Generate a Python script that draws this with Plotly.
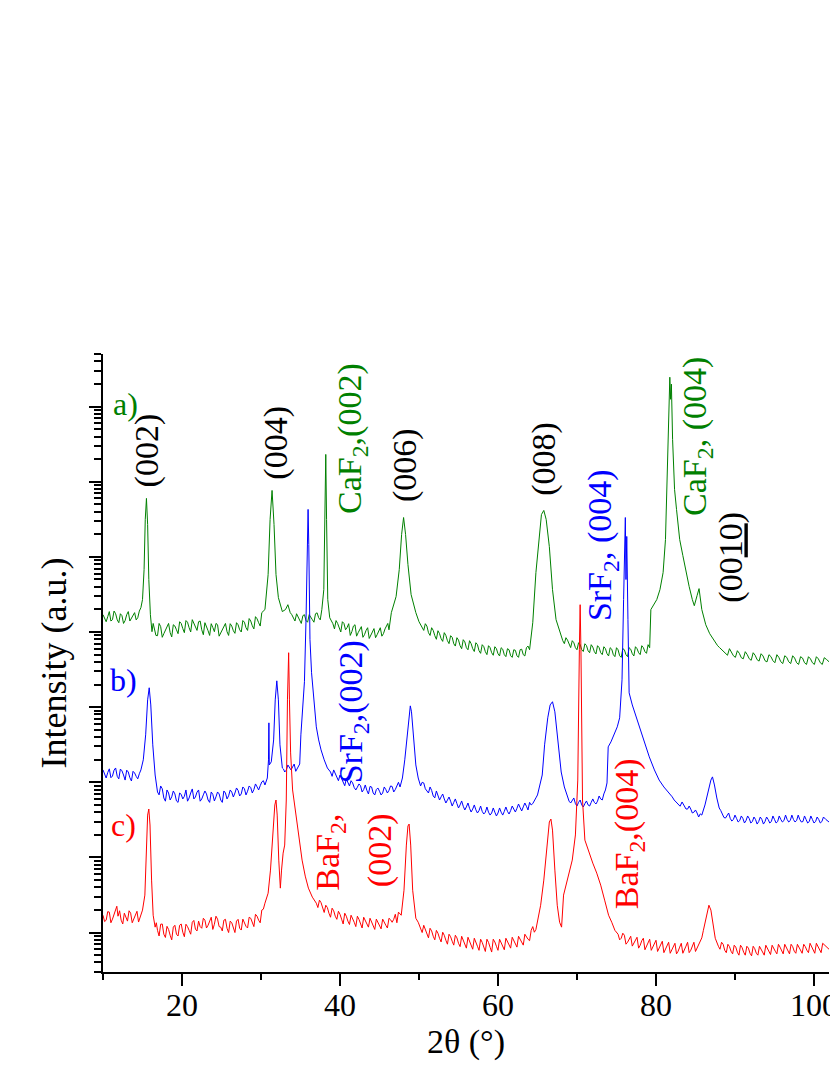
import plotly.graph_objects as go

# XRD patterns, (2theta, intensity) pairs (log scale, arbitrary units)
green_a = [
    (10.0, 1.70e5), (10.4, 1.37e5), (10.8, 1.87e5), (11.2, 1.46e5), (11.6, 1.75e5), (12.0, 1.33e5),
    (12.4, 1.65e5), (12.8, 1.42e5), (13.2, 1.87e5), (13.6, 1.51e5), (14.0, 1.81e5), (14.4, 1.55e5),
    (14.8, 2.11e5), (15.0, 2.70e5), (15.2, 6.78e5), (15.35, 3.15e6), (15.5, 6.00e6), (15.65, 2.70e6),
    (15.8, 4.99e5), (16.0, 1.70e5), (16.2, 1.01e5), (16.5, 1.14e5), (16.9, 8.93e4), (17.3, 1.18e5),
    (17.7, 9.50e4), (18.1, 1.21e5), (18.5, 9.80e4), (18.9, 1.25e5), (19.3, 1.07e5), (19.7, 1.37e5),
    (20.1, 1.11e5), (20.5, 1.42e5), (20.9, 1.14e5), (21.3, 1.46e5), (21.7, 1.18e5), (22.1, 1.37e5),
    (22.5, 1.07e5), (22.9, 1.33e5), (23.3, 1.04e5), (23.7, 1.29e5), (24.1, 1.01e5), (24.5, 1.25e5),
    (24.9, 9.80e4), (25.3, 1.21e5), (25.7, 1.01e5), (26.1, 1.29e5), (26.5, 1.04e5), (26.9, 1.33e5),
    (27.3, 1.07e5), (27.7, 1.42e5), (28.1, 1.14e5), (28.5, 1.51e5), (28.9, 1.21e5), (29.3, 1.60e5),
    (29.7, 1.33e5), (30.1, 1.81e5), (30.5, 1.99e5), (30.9, 5.81e5), (31.15, 3.15e6), (31.4, 7.66e6),
    (31.65, 2.70e6), (31.9, 5.81e5), (32.2, 2.87e5), (32.7, 1.87e5), (33.1, 1.99e5), (33.4, 2.31e5),
    (33.7, 1.81e5), (34.1, 1.55e5), (34.5, 1.75e5), (34.9, 1.46e5), (35.3, 1.65e5), (35.7, 1.42e5),
    (36.1, 1.70e5), (36.5, 1.46e5), (36.9, 1.75e5), (37.3, 1.55e5), (37.7, 1.99e5), (37.95, 3.66e5),
    (38.1, 3.15e6), (38.2, 2.31e7), (38.3, 3.15e6), (38.45, 2.70e5), (38.7, 1.55e5), (39.1, 1.29e5),
    (39.5, 1.42e5), (39.9, 1.14e5), (40.3, 1.37e5), (40.7, 1.07e5), (41.1, 1.29e5), (41.5, 1.01e5),
    (41.9, 1.25e5), (42.3, 9.80e4), (42.7, 1.18e5), (43.1, 9.21e4), (43.5, 1.14e5), (43.9, 8.93e4),
    (44.3, 1.11e5), (44.7, 9.21e4), (45.1, 1.14e5), (45.5, 9.50e4), (45.9, 1.21e5), (46.2, 1.07e5),
    (46.5, 1.81e5), (47.1, 2.96e5), (47.5, 6.78e5), (47.8, 1.99e6), (48.05, 3.34e6), (48.3, 1.99e6),
    (48.6, 7.91e5), (49.0, 3.15e5), (49.6, 1.81e5), (50.0, 1.37e5), (50.4, 1.18e5), (50.8, 1.29e5),
    (51.2, 9.80e4), (51.6, 1.14e5), (52.0, 8.93e4), (52.4, 1.04e5), (52.8, 8.15e4), (53.2, 9.80e4),
    (53.6, 7.66e4), (54.0, 8.93e4), (54.4, 6.98e4), (54.8, 8.40e4), (55.2, 6.57e4), (55.6, 7.90e4),
    (56.0, 6.18e4), (56.4, 7.66e4), (56.8, 6.00e4), (57.2, 7.20e4), (57.6, 5.64e4), (58.0, 6.78e4),
    (58.4, 5.47e4), (58.8, 6.57e4), (59.2, 5.30e4), (59.6, 6.37e4), (60.0, 5.14e4), (60.4, 6.18e4),
    (60.8, 4.99e4), (61.2, 6.00e4), (61.6, 4.83e4), (62.0, 5.81e4), (62.4, 4.83e4), (62.8, 5.81e4),
    (63.2, 4.99e4), (63.6, 6.18e4), (64.0, 5.81e4), (64.4, 1.33e5), (64.8, 6.18e5), (65.2, 1.99e6),
    (65.5, 3.66e6), (65.8, 4.15e6), (66.1, 3.15e6), (66.5, 1.37e6), (66.9, 3.66e5), (67.35, 1.46e5),
    (67.8, 1.01e5), (68.2, 7.66e4), (68.6, 8.40e4), (69.0, 6.78e4), (69.4, 7.66e4), (69.8, 6.18e4),
    (70.2, 7.20e4), (70.6, 5.81e4), (71.0, 6.98e4), (71.4, 5.64e4), (71.8, 6.78e4), (72.2, 5.47e4),
    (72.6, 6.57e4), (73.0, 5.30e4), (73.4, 6.37e4), (73.8, 5.14e4), (74.2, 6.18e4), (74.6, 4.99e4),
    (75.0, 6.18e4), (75.4, 4.83e4), (75.8, 6.00e4), (76.2, 4.99e4), (76.6, 6.18e4), (77.0, 5.14e4),
    (77.4, 6.37e4), (77.8, 5.30e4), (78.2, 6.57e4), (78.6, 5.47e4), (79.0, 6.78e4), (79.2, 6.18e4),
    (79.35, 1.99e5), (79.7, 2.31e5), (80.1, 2.70e5), (80.5, 3.66e5), (80.9, 6.18e5), (81.2, 1.70e6),
    (81.4, 1.07e7), (81.6, 9.20e7), (81.75, 2.46e8), (81.85, 1.25e8), (81.95, 1.99e8), (82.1, 3.66e7),
    (82.35, 7.91e6), (82.6, 4.28e6), (83.0, 1.70e6), (83.4, 1.04e6), (83.8, 6.37e5), (84.2, 4.02e5),
    (84.6, 2.70e5), (84.85, 2.24e5), (85.2, 3.05e5), (85.45, 3.78e5), (85.8, 1.99e5), (86.3, 1.25e5),
    (86.8, 9.50e4), (87.3, 7.90e4), (87.8, 6.57e4), (88.3, 5.81e4), (88.8, 5.14e4), (89.3, 6.00e4),
    (89.8, 4.83e4), (90.3, 5.64e4), (90.8, 4.55e4), (91.3, 5.47e4), (91.8, 4.41e4), (92.3, 5.30e4),
    (92.8, 4.28e4), (93.3, 5.14e4), (93.8, 4.15e4), (94.3, 4.99e4), (94.8, 4.15e4), (95.3, 4.99e4),
    (95.8, 4.02e4), (96.3, 4.83e4), (96.8, 4.02e4), (97.3, 4.83e4), (97.8, 3.90e4), (98.3, 4.69e4),
    (98.8, 3.90e4), (99.3, 4.69e4), (99.8, 3.90e4), (100.3, 4.69e4), (100.8, 3.90e4), (101.3, 4.55e4),
    (101.9, 4.02e4),
]
# extra baseline readings between the ones above (the noise band)
green_a_noise = [
    (10.2, 1.55e5), (10.6, 1.60e5), (11.0, 1.40e5), (11.4, 1.90e5), (11.8, 1.45e5), (12.2, 1.75e5),
    (12.6, 1.30e5), (13.0, 1.70e5), (13.4, 1.40e5), (13.8, 1.65e5), (14.2, 1.45e5), (14.6, 1.90e5),
    (16.35, 1.30e5), (16.7, 9.0e4), (17.1, 1.30e5), (17.5, 8.5e4), (17.9, 1.05e5), (18.3, 1.30e5),
    (18.7, 8.6e4), (19.1, 1.20e5), (19.5, 9.5e4), (19.9, 1.30e5), (20.3, 9.8e4), (20.7, 1.35e5),
    (21.1, 1.00e5), (21.5, 1.30e5), (21.9, 1.05e5), (22.3, 1.40e5), (22.7, 9.2e4), (23.1, 1.20e5),
    (23.5, 9.0e4), (23.9, 1.15e5), (24.3, 1.30e5), (24.7, 8.8e4), (25.1, 1.10e5), (25.5, 1.30e5),
    (25.9, 9.0e4), (26.3, 1.20e5), (26.7, 9.6e4), (27.1, 1.25e5), (27.5, 1.00e5), (27.9, 1.35e5),
    (28.3, 1.05e5), (28.7, 1.40e5), (29.1, 1.10e5), (29.5, 1.50e5), (29.9, 1.20e5),
    (33.9, 1.70e5), (34.3, 1.40e5), (34.7, 1.60e5), (35.1, 1.30e5), (35.5, 1.70e5), (35.9, 1.35e5),
    (36.3, 1.60e5), (36.7, 1.35e5), (37.1, 1.80e5), (37.5, 1.45e5),
    (38.9, 1.40e5), (39.3, 1.10e5), (39.7, 1.30e5), (40.1, 1.00e5), (40.5, 1.30e5), (40.9, 1.15e5),
    (41.3, 9.0e4), (41.7, 1.20e5), (42.1, 8.8e4), (42.5, 1.10e5), (42.9, 8.5e4), (43.3, 1.05e5),
    (43.7, 8.2e4), (44.1, 1.00e5), (44.5, 8.4e4), (44.9, 1.05e5), (45.3, 8.8e4), (45.7, 1.10e5),
    (46.05, 1.30e5),
    (50.2, 1.25e5), (50.6, 1.05e5), (51.0, 1.20e5), (51.4, 9.0e4), (51.8, 1.05e5), (52.2, 8.0e4),
    (52.6, 9.5e4), (53.0, 7.5e4), (53.4, 9.0e4), (53.8, 7.0e4), (54.2, 8.5e4), (54.6, 6.5e4),
    (55.0, 7.8e4), (55.4, 6.0e4), (55.8, 7.4e4), (56.2, 5.8e4), (56.6, 7.0e4), (57.0, 5.5e4),
    (57.4, 6.8e4), (57.8, 5.2e4), (58.2, 6.4e4), (58.6, 5.0e4), (59.0, 6.2e4), (59.4, 4.9e4),
    (59.8, 6.0e4), (60.2, 4.8e4), (60.6, 5.9e4), (61.0, 4.7e4), (61.4, 5.8e4), (61.8, 4.6e4),
    (62.2, 5.7e4), (62.6, 4.6e4), (63.0, 5.9e4), (63.4, 4.8e4), (63.8, 6.5e4),
    (68.0, 9.0e4), (68.4, 7.0e4), (68.8, 7.8e4), (69.2, 6.2e4), (69.6, 7.2e4), (70.0, 5.8e4),
    (70.4, 6.8e4), (70.8, 5.5e4), (71.2, 6.6e4), (71.6, 5.3e4), (72.0, 6.3e4), (72.4, 5.1e4),
    (72.8, 6.2e4), (73.2, 5.0e4), (73.6, 6.0e4), (74.0, 4.8e4), (74.4, 5.9e4), (74.8, 4.7e4),
    (75.2, 5.8e4), (75.6, 4.6e4), (76.0, 5.8e4), (76.4, 4.7e4), (76.8, 5.9e4), (77.2, 4.8e4),
    (77.6, 6.0e4), (78.0, 5.0e4), (78.4, 6.2e4), (78.8, 5.2e4),
    (87.55, 7.0e4), (88.05, 6.2e4), (88.55, 5.5e4), (89.05, 4.9e4), (89.55, 5.3e4), (90.05, 4.6e4),
    (90.55, 5.2e4), (91.05, 4.4e4), (91.55, 5.0e4), (92.05, 4.2e4), (92.55, 4.9e4), (93.05, 4.1e4),
    (93.55, 4.8e4), (94.05, 4.0e4), (94.55, 4.7e4), (95.05, 3.9e4), (95.55, 4.6e4), (96.05, 3.8e4),
    (96.55, 4.6e4), (97.05, 3.8e4), (97.55, 4.5e4), (98.05, 3.7e4), (98.55, 4.5e4), (99.05, 3.7e4),
    (99.55, 4.4e4), (100.05, 3.7e4), (100.55, 4.4e4), (101.05, 3.7e4), (101.6, 4.3e4),
]

blue_b = [
    (10.0, 1.46e3), (10.4, 1.14e3), (10.8, 1.51e3), (11.2, 1.21e3), (11.6, 1.55e3), (12.0, 1.11e3),
    (12.4, 1.42e3), (12.8, 1.07e3), (13.2, 1.37e3), (13.6, 1.04e3), (14.0, 1.33e3), (14.4, 1.11e3),
    (14.8, 1.46e3), (15.1, 1.99e3), (15.4, 4.28e3), (15.65, 1.25e4), (15.85, 1.81e4), (16.05, 1.07e4),
    (16.3, 3.15e3), (16.6, 1.25e3), (16.9, 743), (17.3, 893), (17.7, 618), (18.1, 790), (18.5, 581),
    (18.9, 766), (19.3, 564), (19.7, 720), (20.1, 600), (20.5, 790), (20.9, 618), (21.3, 815),
    (21.7, 637), (22.1, 790), (22.5, 600), (22.9, 766), (23.3, 581), (23.7, 743), (24.1, 564),
    (24.5, 743), (24.9, 581), (25.3, 766), (25.7, 600), (26.1, 790), (26.5, 637), (26.9, 840),
    (27.3, 657), (27.7, 866), (28.1, 678), (28.5, 893), (28.9, 720), (29.3, 950), (29.7, 790),
    (30.1, 1.01e3), (30.5, 921), (30.8, 1.14e3), (30.95, 1.99e3), (31.0, 6.18e3), (31.05, 1.70e3),
    (31.3, 1.87e3), (31.6, 3.66e3), (31.8, 1.25e4), (32.0, 2.24e4), (32.2, 1.25e4), (32.4, 3.15e3),
    (32.7, 1.55e3), (33.0, 1.37e3), (33.4, 1.70e3), (33.8, 1.46e3), (34.2, 1.75e3), (34.6, 1.55e3),
    (34.9, 1.75e3), (35.05, 4.28e3), (35.2, 6.78e3), (35.5, 2.18e4), (35.7, 1.46e5), (35.85, 1.25e6),
    (35.96, 4.28e6), (36.05, 1.46e6), (36.2, 7.90e4), (36.4, 2.87e4), (36.7, 1.25e4), (37.0, 5.47e3),
    (37.3, 3.66e3), (37.6, 2.70e3), (38.0, 1.99e3), (38.4, 1.55e3), (38.8, 1.37e3), (39.2, 1.46e3),
    (39.6, 1.14e3), (40.0, 1.25e3), (40.4, 1.01e3), (40.8, 1.11e3), (41.2, 893), (41.6, 980),
    (42.0, 790), (42.4, 950), (42.8, 743), (43.2, 921), (43.6, 698), (44.0, 866), (44.4, 678),
    (44.8, 840), (45.2, 678), (45.6, 866), (46.0, 720), (46.4, 893), (46.8, 743), (47.2, 921),
    (47.6, 866), (47.9, 1.14e3), (48.2, 1.99e3), (48.5, 4.28e3), (48.75, 8.67e3), (48.9, 1.04e4),
    (49.05, 8.67e3), (49.3, 3.66e3), (49.6, 1.70e3), (49.9, 1.14e3), (50.2, 893), (50.6, 980),
    (51.0, 766), (51.4, 866), (51.8, 657), (52.2, 766), (52.6, 581), (53.0, 698), (53.4, 530),
    (53.8, 637), (54.2, 483), (54.6, 600), (55.0, 455), (55.4, 564), (55.8, 428), (56.2, 530),
    (56.6, 402), (57.0, 499), (57.4, 390), (57.8, 483), (58.2, 378), (58.6, 469), (59.0, 366),
    (59.4, 455), (59.8, 356), (60.2, 455), (60.6, 366), (61.0, 469), (61.4, 378), (61.8, 483),
    (62.2, 402), (62.6, 514), (63.0, 415), (63.4, 530), (63.8, 428), (64.2, 499), (64.6, 581),
    (65.0, 678), (65.3, 921), (65.6, 1.25e3), (65.9, 3.15e3), (66.3, 7.21e3), (66.6, 1.07e4),
    (66.9, 1.18e4), (67.2, 8.67e3), (67.6, 3.15e3), (68.0, 1.37e3), (68.4, 866), (68.8, 637),
    (69.2, 530), (69.6, 618), (70.0, 483), (70.4, 581), (70.8, 469), (71.2, 564), (71.6, 483),
    (72.0, 600), (72.4, 514), (72.8, 657), (73.2, 581), (73.6, 790), (73.8, 980), (73.95, 2.96e3),
    (74.3, 3.45e3), (74.7, 4.28e3), (75.1, 5.47e3), (75.4, 7.21e3), (75.7, 2.31e4), (75.9, 2.70e5),
    (76.05, 1.70e6), (76.12, 3.34e6), (76.2, 4.99e5), (76.3, 1.87e6), (76.45, 1.46e5), (76.6, 1.55e4),
    (77.0, 1.07e4), (77.4, 7.91e3), (77.9, 5.47e3), (78.5, 3.45e3), (79.15, 2.18e3), (79.8, 1.46e3),
    (80.4, 1.07e3), (81.0, 866), (81.7, 720), (82.3, 581), (82.8, 499), (83.3, 547), (83.8, 441),
    (84.2, 483), (84.6, 390), (85.0, 428), (85.4, 345), (85.8, 366), (86.2, 499), (86.6, 743),
    (86.95, 1.07e3), (87.15, 1.18e3), (87.4, 921), (87.7, 618), (88.0, 455), (88.4, 366), (88.8, 334),
    (89.2, 390), (89.6, 305), (90.0, 366), (90.4, 296), (90.8, 356), (91.2, 287), (91.6, 356),
    (92.0, 287), (92.4, 345), (92.8, 278), (93.2, 345), (93.6, 278), (94.0, 345), (94.4, 287),
    (94.8, 356), (95.2, 287), (95.6, 356), (96.0, 296), (96.4, 366), (96.8, 296), (97.2, 366),
    (97.6, 296), (98.0, 366), (98.4, 296), (98.8, 356), (99.2, 287), (99.6, 356), (100.0, 287),
    (100.4, 345), (100.8, 287), (101.2, 345), (101.9, 296),
]
blue_b_noise = [
    (10.2, 1.25e3), (10.6, 1.35e3), (11.0, 1.15e3), (11.4, 1.45e3), (11.8, 1.20e3), (12.2, 1.50e3),
    (12.6, 1.25e3), (13.0, 1.45e3), (13.4, 1.15e3), (13.8, 1.40e3), (14.2, 1.20e3), (14.6, 1.30e3),
    (17.1, 680), (17.5, 820), (17.9, 560), (18.3, 720), (18.7, 640), (19.1, 700), (19.5, 540),
    (19.9, 690), (20.3, 650), (20.7, 560), (21.1, 720), (21.5, 600), (21.9, 740), (22.3, 560),
    (22.7, 680), (23.1, 700), (23.5, 540), (23.9, 690), (24.3, 640), (24.7, 700), (25.1, 540),
    (25.5, 720), (25.9, 660), (26.3, 740), (26.7, 720), (27.1, 780), (27.5, 700), (27.9, 820),
    (28.3, 760), (28.7, 850), (29.1, 800), (29.5, 870), (29.9, 900), (30.3, 1.05e3),
    (32.85, 1.50e3), (33.2, 1.45e3), (33.6, 1.60e3), (34.0, 1.60e3), (34.4, 1.40e3), (34.75, 1.65e3),
    (39.0, 1.20e3), (39.4, 1.30e3), (39.8, 1.05e3), (40.2, 1.10e3), (40.6, 900), (41.0, 1.00e3),
    (41.4, 1.05e3), (41.8, 850), (42.2, 860), (42.6, 900), (43.0, 800), (43.4, 780), (43.8, 880),
    (44.2, 720), (44.6, 800), (45.0, 760), (45.4, 720), (45.8, 800), (46.2, 780), (46.6, 880),
    (47.0, 800), (47.4, 1.00e3),
    (50.4, 1.00e3), (50.8, 820), (51.2, 720), (51.6, 780), (52.0, 620), (52.4, 680), (52.8, 640),
    (53.2, 600), (53.6, 580), (54.0, 560), (54.4, 540), (54.8, 520), (55.2, 500), (55.6, 480),
    (56.0, 470), (56.4, 450), (56.8, 440), (57.2, 430), (57.6, 420), (58.0, 410), (58.4, 400),
    (58.8, 400), (59.2, 390), (59.6, 400), (60.0, 390), (60.4, 400), (60.8, 410), (61.2, 410),
    (61.6, 420), (62.0, 440), (62.4, 450), (62.8, 460), (63.2, 470), (63.6, 480), (64.0, 540),
    (64.4, 520), (64.8, 620),
    (69.0, 560), (69.4, 580), (69.8, 520), (70.2, 540), (70.6, 500), (71.0, 520), (71.4, 500),
    (71.8, 540), (72.2, 540), (72.6, 560), (73.0, 600), (73.4, 700),
    (82.05, 640), (82.55, 540), (83.05, 480), (83.55, 500), (84.0, 440), (84.4, 440), (84.8, 400),
    (85.2, 390), (85.6, 380),
    (88.2, 420), (88.6, 340), (89.0, 370), (89.4, 330), (89.8, 320), (90.2, 330), (90.6, 310),
    (91.0, 330), (91.4, 310), (91.8, 330), (92.2, 300), (92.6, 320), (93.0, 300), (93.4, 320),
    (93.8, 300), (94.2, 320), (94.6, 300), (95.0, 320), (95.4, 300), (95.8, 320), (96.2, 310),
    (96.6, 320), (97.0, 310), (97.4, 320), (97.8, 310), (98.2, 320), (98.6, 300), (99.0, 320),
    (99.4, 300), (99.8, 320), (100.2, 300), (100.6, 320), (101.0, 300), (101.5, 320),
]

red_c = [
    (10.0, 17.0), (10.4, 14.6), (10.8, 18.7), (11.2, 15.1), (11.6, 19.9), (11.75, 22.4), (11.9, 16.5),
    (12.3, 14.6), (12.7, 18.1), (13.1, 14.2), (13.5, 18.1), (13.9, 15.1), (14.3, 19.2), (14.7, 16.5),
    (15.0, 19.9), (15.3, 31.5), (15.5, 125), (15.65, 366), (15.8, 441), (15.95, 270), (16.15, 49.9),
    (16.35, 17.0), (16.6, 11.8), (16.9, 10.7), (17.3, 12.9), (17.7, 9.50), (18.1, 12.1), (18.5, 9.21),
    (18.9, 11.8), (19.3, 9.50), (19.7, 12.5), (20.1, 10.1), (20.5, 12.9), (20.9, 10.7), (21.3, 13.7),
    (21.7, 11.1), (22.1, 14.2), (22.5, 11.4), (22.9, 14.6), (23.3, 12.5), (23.7, 16.0), (24.1, 12.9),
    (24.5, 15.1), (24.9, 11.8), (25.3, 14.6), (25.7, 11.4), (26.1, 14.2), (26.5, 11.1), (26.9, 14.2),
    (27.3, 11.4), (27.7, 15.1), (28.1, 12.1), (28.5, 16.0), (28.9, 13.3), (29.3, 17.5), (29.7, 14.6),
    (30.1, 19.9), (30.5, 24.6), (30.9, 33.4), (31.2, 67.8), (31.5, 231), (31.75, 499), (31.9, 581),
    (32.05, 366), (32.25, 92.1), (32.45, 39.0), (32.6, 67.8), (32.8, 114), (33.0, 146), (33.2, 581),
    (33.35, 1.25e4), (33.5, 5.30e4), (33.6, 1.25e4), (33.75, 2.46e3), (34.0, 790), (34.4, 366),
    (34.8, 181), (35.2, 92.1), (35.6, 56.4), (36.0, 39.0), (36.5, 29.6), (37.0, 24.6), (37.4, 27.0),
    (37.8, 20.5), (38.2, 23.1), (38.6, 18.1), (39.0, 21.1), (39.4, 16.5), (39.8, 19.2), (40.2, 15.1),
    (40.6, 18.1), (41.0, 14.2), (41.4, 17.0), (41.8, 13.7), (42.2, 16.5), (42.6, 13.3), (43.0, 16.0),
    (43.4, 12.9), (43.8, 15.5), (44.2, 12.5), (44.6, 15.1), (45.0, 12.1), (45.4, 15.1), (45.8, 12.5),
    (46.2, 15.5), (46.6, 13.7), (47.0, 17.5), (47.4, 18.7), (47.75, 17.0), (48.1, 36.6), (48.4, 146),
    (48.6, 262), (48.75, 278), (48.95, 146), (49.2, 36.6), (49.6, 15.5), (49.9, 13.7), (50.2, 11.4),
    (50.6, 12.5), (51.0, 9.80), (51.4, 11.4), (51.8, 8.93), (52.2, 10.7), (52.6, 8.40), (53.0, 10.1),
    (53.4, 7.90), (53.8, 9.50), (54.2, 7.66), (54.6, 9.21), (55.0, 7.20), (55.4, 8.93), (55.8, 6.98),
    (56.2, 8.66), (56.6, 6.78), (57.0, 8.40), (57.4, 6.57), (57.8, 8.15), (58.2, 6.57), (58.6, 8.15),
    (59.0, 6.37), (59.4, 8.15), (59.8, 6.57), (60.2, 8.15), (60.6, 6.57), (61.0, 8.40), (61.4, 6.78),
    (61.8, 8.66), (62.2, 6.98), (62.6, 8.93), (63.0, 7.43), (63.4, 9.50), (63.8, 8.15), (64.2, 10.7),
    (64.6, 10.1), (65.0, 14.6), (65.4, 23.1), (65.8, 49.9), (66.2, 146), (66.5, 296), (66.7, 324),
    (66.9, 231), (67.2, 67.8), (67.5, 23.1), (67.8, 13.7), (68.05, 11.8), (68.3, 31.5), (68.6, 42.8),
    (69.0, 63.7), (69.4, 92.1), (69.8, 199), (70.1, 1.07e3), (70.3, 5.81e4), (70.4, 2.31e5),
    (70.5, 5.81e4), (70.7, 581), (71.0, 170), (71.5, 118), (72.0, 84.0), (72.5, 61.8), (73.0, 42.8),
    (73.5, 27.0), (74.0, 17.0), (74.4, 13.7), (74.8, 10.7), (75.2, 9.50), (75.6, 8.40), (76.0, 9.21),
    (76.4, 7.43), (76.8, 8.93), (77.2, 7.20), (77.6, 8.66), (78.0, 6.78), (78.4, 8.40), (78.8, 6.57),
    (79.2, 8.15), (79.6, 6.37), (80.0, 7.90), (80.4, 6.18), (80.8, 7.66), (81.2, 6.00), (81.6, 7.43),
    (82.0, 5.81), (82.4, 7.20), (82.8, 5.64), (83.2, 7.20), (83.6, 5.81), (84.0, 7.43), (84.4, 5.81),
    (84.8, 7.43), (85.2, 6.18), (85.6, 7.90), (86.0, 10.7), (86.4, 17.0), (86.7, 23.1), (86.95, 19.9),
    (87.2, 12.5), (87.5, 8.40), (87.9, 6.57), (88.3, 7.43), (88.7, 5.81), (89.1, 6.98), (89.5, 5.64),
    (89.9, 6.78), (90.3, 5.47), (90.7, 6.78), (91.1, 5.47), (91.5, 6.57), (91.9, 5.30), (92.3, 6.57),
    (92.7, 5.30), (93.1, 6.57), (93.5, 5.47), (93.9, 6.78), (94.3, 5.47), (94.7, 6.78), (95.1, 5.64),
    (95.5, 6.98), (95.9, 5.64), (96.3, 6.98), (96.7, 5.64), (97.1, 6.98), (97.5, 5.64), (97.9, 6.98),
    (98.3, 5.81), (98.7, 6.98), (99.1, 5.81), (99.5, 7.20), (99.9, 5.81), (100.3, 7.20), (100.7, 5.81),
    (101.1, 7.20), (101.9, 6.00),
]
red_c_noise = [
    (10.2, 14.0), (10.6, 19.0), (11.0, 13.5), (11.4, 17.5), (12.1, 19.5), (12.5, 13.0), (12.9, 16.0),
    (13.3, 19.5), (13.7, 13.5), (14.1, 17.5), (14.5, 13.8), (14.85, 18.0),
    (16.75, 13.5), (17.1, 9.0), (17.5, 13.0), (17.9, 8.6), (18.3, 11.0), (18.7, 8.0), (19.1, 12.5),
    (19.5, 9.0), (19.9, 13.0), (20.3, 8.8), (20.7, 12.0), (21.1, 9.5), (21.5, 14.5), (21.9, 10.5),
    (22.3, 12.0), (22.7, 15.5), (23.1, 11.5), (23.5, 14.0), (23.9, 11.0), (24.3, 16.5), (24.7, 12.0),
    (25.1, 10.5), (25.5, 15.0), (25.9, 10.0), (26.3, 13.5), (26.7, 10.0), (27.1, 15.0), (27.5, 10.8),
    (27.9, 13.5), (28.3, 11.5), (28.7, 15.5), (29.1, 12.0), (29.5, 16.5), (29.9, 13.5), (30.3, 20.5),
    (37.2, 21.5), (37.6, 25.0), (38.0, 18.5), (38.4, 21.5), (38.8, 16.0), (39.2, 19.5), (39.6, 15.0),
    (40.0, 17.5), (40.4, 13.0), (40.8, 16.5), (41.2, 12.8), (41.6, 15.5), (42.0, 12.0), (42.4, 15.0),
    (42.8, 11.5), (43.2, 14.5), (43.6, 11.8), (44.0, 14.0), (44.4, 11.0), (44.8, 13.8), (45.2, 11.2),
    (45.6, 14.0), (46.0, 11.5), (46.4, 14.8), (46.8, 15.0), (47.2, 13.5),
    (50.4, 10.0), (50.8, 11.0), (51.2, 8.5), (51.6, 10.5), (52.0, 8.0), (52.4, 9.8), (52.8, 7.5),
    (53.2, 9.2), (53.6, 7.0), (54.0, 8.8), (54.4, 6.8), (54.8, 8.5), (55.2, 6.5), (55.6, 8.0),
    (56.0, 6.2), (56.4, 7.8), (56.8, 6.0), (57.2, 7.6), (57.6, 5.8), (58.0, 7.4), (58.4, 5.6),
    (58.8, 7.4), (59.2, 5.5), (59.6, 7.5), (60.0, 5.8), (60.4, 7.2), (60.8, 5.9), (61.2, 7.6),
    (61.6, 6.2), (62.0, 7.8), (62.4, 6.4), (62.8, 8.0), (63.2, 6.8), (63.6, 8.6), (64.0, 7.8),
    (64.4, 12.0), (64.8, 11.0),
    (75.4, 8.0), (75.8, 9.8), (76.2, 7.0), (76.6, 8.4), (77.0, 6.6), (77.4, 8.0), (77.8, 6.2),
    (78.2, 7.8), (78.6, 5.9), (79.0, 7.4), (79.4, 5.8), (79.8, 7.2), (80.2, 5.6), (80.6, 7.0),
    (81.0, 5.4), (81.4, 6.8), (81.8, 5.3), (82.2, 6.6), (82.6, 5.2), (83.0, 6.4), (83.4, 5.3),
    (83.8, 6.6), (84.2, 5.4), (84.6, 6.6), (85.0, 5.6), (85.4, 7.0), (85.8, 8.5),
    (88.1, 6.0), (88.5, 7.0), (88.9, 5.4), (89.3, 6.5), (89.7, 5.2), (90.1, 6.4), (90.5, 5.0),
    (90.9, 6.3), (91.3, 5.0), (91.7, 6.2), (92.1, 4.9), (92.5, 6.1), (92.9, 5.0), (93.3, 6.0),
    (93.7, 5.0), (94.1, 6.2), (94.5, 5.1), (94.9, 6.3), (95.3, 5.2), (95.7, 6.4), (96.1, 5.2),
    (96.5, 6.4), (96.9, 5.2), (97.3, 6.5), (97.7, 5.3), (98.1, 6.4), (98.5, 5.3), (98.9, 6.5),
    (99.3, 5.4), (99.7, 6.6), (100.1, 5.3), (100.5, 6.6), (100.9, 5.4), (101.5, 6.5),
]

GREEN = "#008000"
BLUE = "#0000ff"
RED = "#ff0000"
BLACK = "#000000"
FONT = "Liberation Serif"

# peak labels: text, 2theta, log10(intensity), colour, rotation
labels = [
    ("a)", 12.8, 8.03, GREEN, 0),
    ("(002)", 15.6, 7.42, BLACK, -90),
    ("(004)", 31.9, 7.52, BLACK, -90),
    ("CaF<sub>2</sub>,(002)", 41.5, 7.58, GREEN, -90),
    ("(006)", 48.2, 7.22, BLACK, -90),
    ("(008)", 65.9, 7.30, BLACK, -90),
    ("SrF<sub>2</sub>, (004)", 73.2, 6.16, BLUE, -90),
    ("CaF<sub>2</sub>, (004)", 85.1, 7.60, GREEN, -90),
    ("(00<u>10</u>)", 89.5, 5.99, BLACK, -90),
    ("b)", 12.65, 4.36, BLUE, 0),
    ("c)", 12.65, 2.43, RED, 0),
    ("SrF<sub>2</sub>,(002)", 41.6, 3.94, BLUE, -90),
    ("BaF<sub>2</sub>,", 38.8, 2.07, RED, -90),
    ("(002)", 45.1, 2.10, RED, -90),
    ("BaF<sub>2</sub>,(004)", 76.6, 2.31, RED, -90),
]

fig = go.Figure()
for pts, extra, col in ((green_a, green_a_noise, GREEN), (blue_b, blue_b_noise, BLUE),
                        (red_c, red_c_noise, RED)):
    xs, ys = zip(*sorted(pts + extra))
    fig.add_trace(go.Scatter(x=list(xs), y=list(ys), mode="lines",
                             line=dict(color=col, width=1), showlegend=False, hoverinfo="skip"))

for text, x, y, col, ang in labels:
    fig.add_annotation(x=x, y=y, xref="x", yref="y", text=text, showarrow=False,
                       textangle=ang, xanchor="center", yanchor="middle",
                       font=dict(family=FONT, size=34 if ang else 32, color=col))

xr = [10, 101.9]
tickstyle = dict(tick0=0, dtick=20, ticklen=12, tickwidth=2, tickcolor=BLACK,
                 showline=True, linewidth=2, linecolor=BLACK, showgrid=False, zeroline=False)
fig.update_layout(
    # the original plot runs past the right edge of the window
    width=838, height=1075,
    margin=dict(l=103, r=0, t=354, b=103),
    paper_bgcolor="white", plot_bgcolor="white",
    font=dict(family=FONT, color=BLACK),
    xaxis=dict(range=xr, ticks="outside", **tickstyle,
               minor=dict(dtick=10, ticks="outside", ticklen=6, tickwidth=2, tickcolor=BLACK),
               tickfont=dict(family=FONT, size=32, color=BLACK),
               ticklabeloverflow="allow", ticklabelstandoff=-8,
               title=dict(text="2θ (°)", font=dict(family=FONT, size=34, color=BLACK), standoff=3)),
    xaxis2=dict(range=xr, overlaying="x", side="top", anchor="y", ticks="inside", **tickstyle,
                minor=dict(dtick=10, ticks="inside", ticklen=6, tickwidth=2, tickcolor=BLACK),
                showticklabels=False),
    yaxis=dict(type="log", range=[0.475, 8.70], dtick=1, ticks="outside", ticklen=12, tickwidth=2,
               tickcolor=BLACK, showticklabels=False, showline=True, linewidth=2, linecolor=BLACK,
               showgrid=False, zeroline=False,
               minor=dict(dtick="D1", ticks="outside", ticklen=7, tickwidth=1.5, tickcolor=BLACK),
               title=dict(text="Intensity (a.u.)", font=dict(family=FONT, size=36, color=BLACK),
                          standoff=11)),
)

# drop the default page margin so the figure sits at the window's top-left corner
fig.write_html("out.html", config={"displayModeBar": False},
               post_script="document.body.style.margin='0';"
                           "document.documentElement.style.overflow='hidden';")
